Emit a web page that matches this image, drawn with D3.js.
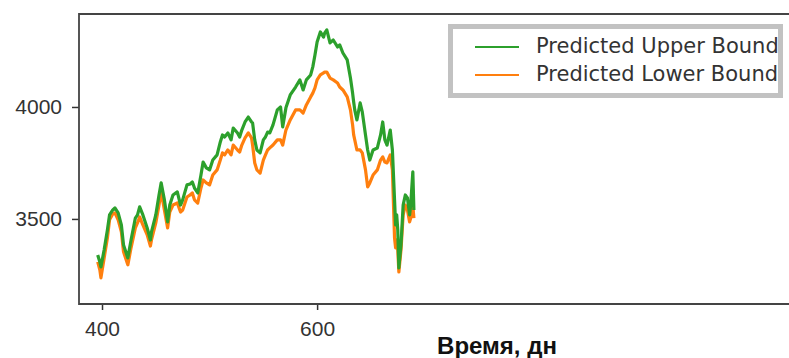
<!DOCTYPE html>
<html>
    <head>
        <meta charset="utf-8">
        <style>
            body { margin: 0; background: white; }
            svg { display: block; }
        </style>
    </head>
    <body>
        <div id="chart"></div>
    </body>
    <script src="https://d3js.org/d3.v7.min.js"></script>
    <script>

        // data
        const days = [396, 398, 399, 402, 405, 407, 410, 412, 415, 418, 420, 424, 427, 431, 433, 435, 438, 442, 445, 446,
            450, 453, 455, 458, 461, 463, 466, 470, 473, 475, 479, 482, 484, 486, 489, 492, 494, 497, 500, 503,
            507, 510, 512, 514, 517, 520, 522, 526, 528, 530, 533, 536, 539, 540, 542, 544, 547, 550, 552, 554,
            556, 559, 563, 566, 568, 571, 575, 580, 584, 587, 590, 594, 596, 598, 600, 603, 606, 607, 609, 612,
            615, 619, 621, 624, 628, 631, 633, 634, 635, 637, 640, 642, 645, 647, 649, 652, 656, 659, 661, 663,
            665, 668, 670, 672, 673, 674, 675, 676, 678, 680, 682, 684, 686, 687, 689, 690];

        const upperBound = [3339, 3308, 3286, 3362, 3451, 3518, 3540, 3549, 3527, 3473, 3384, 3326, 3406, 3504, 3518, 3554, 3518, 3460, 3406, 3442,
            3518, 3607, 3661, 3585, 3487, 3562, 3607, 3621, 3562, 3585, 3652, 3656, 3665, 3638, 3616, 3696, 3754, 3728, 3719, 3763,
            3786, 3844, 3875, 3866, 3884, 3853, 3906, 3884, 3866, 3897, 3933, 3955, 3933, 3929, 3853, 3808, 3795, 3853, 3866, 3888,
            3884, 3920, 3987, 4000, 3911, 3996, 4054, 4089, 4121, 4076, 4121, 4143, 4179, 4232, 4290, 4335, 4312, 4330, 4344, 4286,
            4299, 4268, 4277, 4241, 4210, 4129, 4062, 4022, 3987, 3942, 4018, 3978, 3875, 3808, 3763, 3808, 3817, 3875, 3933, 3853,
            3830, 3897, 3808, 3585, 3473, 3518, 3451, 3281, 3384, 3562, 3607, 3594, 3518, 3562, 3710, 3540];

        const lowerBound = [3308, 3272, 3237, 3326, 3415, 3496, 3522, 3527, 3496, 3442, 3353, 3295, 3371, 3460, 3482, 3509, 3473, 3429, 3379, 3406,
            3482, 3562, 3621, 3540, 3460, 3531, 3562, 3571, 3531, 3540, 3598, 3607, 3616, 3585, 3571, 3638, 3674, 3661, 3652, 3696,
            3719, 3763, 3795, 3786, 3808, 3786, 3830, 3808, 3799, 3830, 3862, 3884, 3862, 3830, 3750, 3719, 3705, 3763, 3786, 3808,
            3817, 3830, 3853, 3853, 3830, 3897, 3942, 3987, 3987, 3973, 4009, 4045, 4062, 4085, 4121, 4143, 4152, 4156, 4156, 4129,
            4121, 4107, 4089, 4076, 4045, 3987, 3920, 3875, 3853, 3808, 3808, 3795, 3719, 3643, 3661, 3696, 3719, 3763, 3777, 3754,
            3750, 3786, 3719, 3415, 3371, 3406, 3362, 3263, 3362, 3518, 3562, 3540, 3487, 3504, 3562, 3504];

        const xTicks = [400, 600];
        const yTicks = [3500, 4000];
        const seriesNames = ['Predicted Upper Bound', 'Predicted Lower Bound'];
        const seriesColors = ['#2ca02c', '#ff7f0e'];

        const width = 789;
        const height = 358;
        const plot = { left: 79, top: 14, right: 800, bottom: 304 };

        const svg = d3.select('#chart')
            .append('svg')
            .attr('width', width)
            .attr('height', height)
            .style('font-family', '"DejaVu Sans", sans-serif')

        // 400 -> 102px, 600 -> 317px
        const xScale = d3.scaleLinear()
            .domain([378.6, 1049])
            .range([plot.left, plot.right])

        // 3500 -> 219px, 4000 -> 107px
        const yScale = d3.scaleLinear()
            .domain([3120.1, 4415.2])
            .range([plot.bottom, plot.top])

        const upperData = days.map((d, i) => [d, upperBound[i]]);
        const lowerData = days.map((d, i) => [d, lowerBound[i]]);

        const line = d3.line()
            .x(d => xScale(d[0]))
            .y(d => yScale(d[1]))

        svg.append('path')
            .datum(lowerData)
            .attr('d', line)
            .attr('fill', 'none')
            .attr('stroke', seriesColors[1])
            .attr('stroke-width', 3.2)
            .attr('stroke-linejoin', 'round')

        svg.append('path')
            .datum(upperData)
            .attr('d', line)
            .attr('fill', 'none')
            .attr('stroke', seriesColors[0])
            .attr('stroke-width', 3.2)
            .attr('stroke-linejoin', 'round')

        // axes
        const xAxis = d3.axisBottom(xScale).tickValues(xTicks).tickSize(6).tickPadding(11).tickFormat(d3.format('d'));
        const gx = svg.append('g')
            .attr('transform', `translate(0, ${plot.bottom})`)
            .call(xAxis)
        gx.select('.domain').remove()
        gx.selectAll('text').style('font-size', '21px').attr('fill', '#333')
        gx.selectAll('line').attr('stroke', '#333').attr('stroke-width', 1.5)

        const yAxis = d3.axisLeft(yScale).tickValues(yTicks).tickSize(7).tickPadding(10).tickFormat(d3.format('d'));
        const gy = svg.append('g')
            .attr('transform', `translate(${plot.left}, 0)`)
            .call(yAxis)
        gy.select('.domain').remove()
        gy.selectAll('text').style('font-size', '21px').attr('fill', '#333')
        gy.selectAll('line').attr('stroke', '#333').attr('stroke-width', 1.5)

        // spines
        svg.append('path')
            .attr('d', `M${plot.right},${plot.top}H${plot.left}V${plot.bottom}H${plot.right}`)
            .attr('fill', 'none')
            .attr('stroke', '#444')
            .attr('stroke-width', 1.8)

        svg.append('text')
            .attr('x', 497)
            .attr('y', 354)
            .attr('text-anchor', 'middle')
            .style('font-family', '"Liberation Sans", Arial, sans-serif')
            .style('font-weight', 'bold')
            .style('font-size', '24px')
            .attr('fill', '#111')
            .text('Время, дн')

        // legend
        const legend = svg.append('g')
            .attr('transform', 'translate(448, 24)')

        legend.append('rect')
            .attr('x', 2.5)
            .attr('y', 2.5)
            .attr('width', 330)
            .attr('height', 69)
            .attr('fill', 'white')
            .attr('stroke', '#c2c2c2')
            .attr('stroke-width', 5)

        legend.selectAll('line.key')
            .data(seriesNames)
            .enter()
            .append('line')
            .attr('class', 'key')
            .attr('x1', 27)
            .attr('x2', 71)
            .attr('y1', (d, i) => 23 + i * 28)
            .attr('y2', (d, i) => 23 + i * 28)
            .attr('stroke', (d, i) => seriesColors[i])
            .attr('stroke-width', 2)

        legend.selectAll('text')
            .data(seriesNames)
            .enter()
            .append('text')
            .attr('x', 88)
            .attr('y', (d, i) => 29 + i * 28)
            .style('font-size', '21px')
            .attr('fill', '#333')
            .text(d => d)

    </script>
</html>
